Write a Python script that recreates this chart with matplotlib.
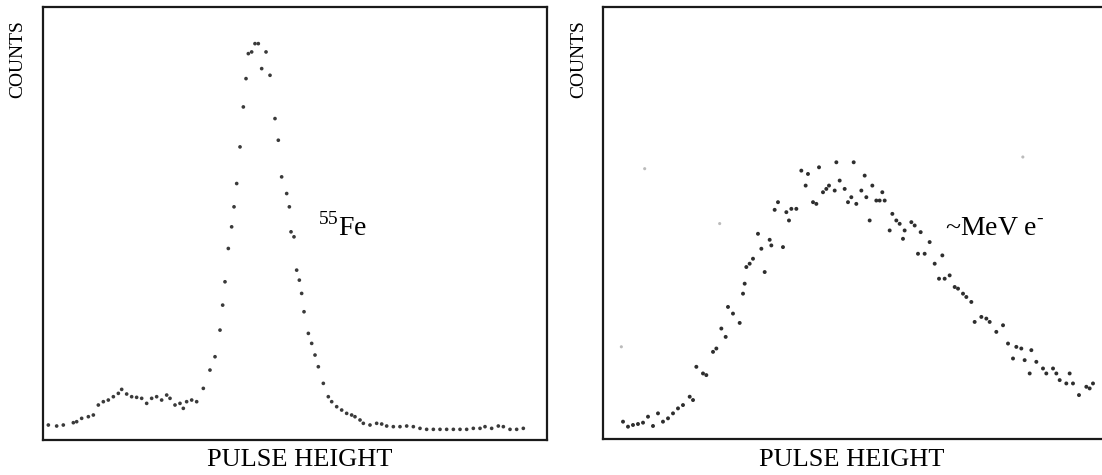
import matplotlib
matplotlib.use("Agg")
import matplotlib.pyplot as plt

plt.rcParams["font.family"] = ["Liberation Serif", "DejaVu Serif"]
plt.rcParams["mathtext.fontset"] = "custom"
plt.rcParams["mathtext.rm"] = "Liberation Serif"

## Data (pulse height channel in % of range, counts in % of range)
# 55Fe spectrum
fe_x = [1.06, 2.71, 4.03, 6.02, 6.68, 7.67, 9.0, 9.99, 10.98, 11.97, 12.96, 13.96,
        14.95, 15.61, 16.6, 17.59, 18.58, 19.58, 20.57, 21.56, 22.55, 23.54, 24.54,
        25.2, 26.19, 27.18, 27.84, 28.5, 29.5, 30.49, 31.81, 33.13, 34.13, 35.12,
        35.65, 36.11, 36.77, 37.43, 37.9, 38.43, 39.09, 39.75, 40.28, 40.74, 41.4,
        42.06, 42.72, 43.39, 44.25, 45.04, 46.03, 46.69, 47.35, 48.35, 48.88, 49.21,
        49.8, 50.33, 50.86, 51.32, 51.79, 52.65, 53.31, 53.97, 54.63, 55.62, 56.61,
        57.28, 58.27, 59.26, 60.25, 61.24, 61.9, 62.9, 63.56, 64.88, 66.2, 67.2,
        68.19, 69.51, 70.83, 72.16, 73.48, 74.8, 76.12, 77.45, 78.77, 80.09, 81.42,
        82.74, 84.06, 85.38, 86.71, 87.7, 89.02, 90.34, 91.34, 92.66, 93.98, 95.3]
fe_y = [3.46, 3.23, 3.46, 4.0, 4.23, 5.0, 5.38, 5.77, 8.08, 8.85, 9.23, 10.0,
        10.77, 11.69, 10.62, 10.0, 9.85, 9.62, 8.46, 9.62, 10.0, 9.23, 10.38,
        9.62, 8.08, 8.46, 7.31, 8.85, 9.23, 8.85, 11.92, 16.15, 19.23, 25.38,
        31.15, 36.54, 44.23, 49.23, 53.85, 59.23, 67.69, 76.92, 83.46, 89.23, 89.62,
        91.54, 91.54, 85.77, 89.62, 84.23, 74.23, 69.23, 60.77, 56.92, 53.85, 48.08,
        46.92, 39.23, 36.92, 33.85, 29.62, 24.62, 22.31, 19.62, 16.92, 13.08, 10.0,
        8.85, 7.69, 6.92, 6.15, 5.77, 5.38, 4.62, 3.85, 3.46, 3.85, 3.69,
        3.23, 3.08, 3.08, 3.23, 3.08, 2.69, 2.46, 2.46, 2.46, 2.46, 2.46,
        2.46, 2.46, 2.69, 2.69, 3.08, 2.69, 3.23, 3.08, 2.46, 2.46, 2.69]

# ~MeV electron spectrum
e_x = [3.97, 4.96, 5.95, 6.94, 7.94, 8.93, 9.92, 10.91, 11.9, 12.9, 13.89, 14.88,
       15.87, 17.2, 17.86, 18.52, 19.84, 20.5, 21.83, 22.49, 23.48, 24.34, 24.8,
       25.79, 27.12, 27.78, 28.11, 28.44, 29.1, 29.76, 30.75, 31.42, 32.08, 33.07,
       33.4, 34.06, 34.72, 35.71, 36.38, 36.9, 37.37, 38.36, 39.35, 40.21, 40.67,
       41.67, 42.33, 42.86, 43.65, 44.31, 44.84, 45.97, 46.3, 46.96, 47.95, 48.61,
       49.27, 49.74, 50.26, 51.26, 51.92, 52.25, 52.91, 53.44, 54.23, 54.89, 55.42,
       55.89, 56.88, 57.41, 58.2, 58.86, 59.52, 59.85, 61.18, 61.84, 62.5, 63.03,
       63.82, 64.81, 65.81, 66.67, 67.33, 67.79, 68.78, 69.78, 70.44, 71.43, 72.09,
       73.08, 73.74, 75.07, 76.06, 76.72, 78.04, 79.37, 80.36, 81.35, 82.01, 83.0,
       83.66, 84.66, 84.99, 85.98, 87.3, 87.96, 89.29, 89.95, 90.61, 91.93, 92.59,
       93.25, 94.44, 95.9, 96.56, 97.22]
e_y = [4.08, 2.92, 3.31, 3.54, 3.85, 5.23, 3.08, 6.0, 4.08, 4.85, 6.0, 7.15,
       7.92, 9.85, 9.08, 16.77, 15.23, 14.85, 20.23, 21.0, 25.62, 23.69, 30.62,
       29.08, 26.92, 33.69, 36.0, 39.85, 40.62, 41.77, 47.54, 44.08, 38.69, 46.15,
       44.85, 53.08, 54.85, 44.46, 52.54, 50.62, 53.31, 53.31, 62.15, 58.69, 61.38,
       54.85, 54.46, 62.92, 57.15, 57.92, 58.69, 57.54, 64.08, 59.85, 57.92, 54.85,
       56.0, 64.08, 54.46, 57.54, 61.0, 56.0, 50.62, 58.69, 55.23, 55.23, 57.15,
       55.23, 48.31, 52.15, 50.62, 49.85, 46.38, 48.31, 50.23, 49.46, 42.92, 47.92,
       42.92, 45.62, 40.62, 37.15, 42.54, 37.15, 37.92, 35.23, 34.85, 33.69, 32.92,
       31.77, 27.15, 28.31, 27.92, 27.15, 24.85, 26.38, 22.15, 18.69, 21.38, 21.0,
       18.31, 15.23, 20.62, 17.92, 16.38, 15.23, 16.38, 15.23, 13.69, 12.92, 15.23,
       12.92, 10.23, 12.15, 11.77, 12.92]

# stray faint dots
stray_x = [8.27, 23.15, 3.64, 83.3]
stray_y = [62.6, 49.9, 21.4, 65.3]

## Figure
fig = plt.figure(figsize=(11.02, 4.75), dpi=100)
ax1 = fig.add_axes([43 / 1102, 35 / 475, 504 / 1102, 433 / 475])
ax2 = fig.add_axes([603 / 1102, 35.7 / 475, 504 / 1102, 432.3 / 475])

ax1.scatter(fe_x, fe_y, s=7, color="#3a3a3a", edgecolors="none")
ax2.scatter(e_x, e_y, s=8, color="#2e2e2e", edgecolors="none")
ax2.scatter(stray_x, stray_y, s=5, color="#bbbbbb", edgecolors="none")

for ax in (ax1, ax2):
    ax.set_xlim(0, 100)
    ax.set_ylim(0, 100)
    ax.set_xticks([])
    ax.set_yticks([])
    for sp in ax.spines.values():
        sp.set_linewidth(1.6)
        sp.set_color("#1a1a1a")

ax1.text(54.6, 47.3, r"$^{55}$Fe", fontsize=20, ha="left", va="baseline")
ax2.text(67.9, 47.3, r"~MeV e$^{\text{-}}$", fontsize=20, ha="left", va="baseline")

fig.text(18 / 1102, 1 - 59 / 475, "COUNTS", rotation=90, fontsize=14,
         ha="center", va="center")
fig.text(578.5 / 1102, 1 - 59 / 475, "COUNTS", rotation=90, fontsize=14,
         ha="center", va="center")
fig.text(300 / 1102, 1 - 460.5 / 475, "PULSE HEIGHT", fontsize=19,
         ha="center", va="center")
fig.text(852 / 1102, 1 - 460.5 / 475, "PULSE HEIGHT", fontsize=19,
         ha="center", va="center")

fig.savefig("out.png", dpi=100)
